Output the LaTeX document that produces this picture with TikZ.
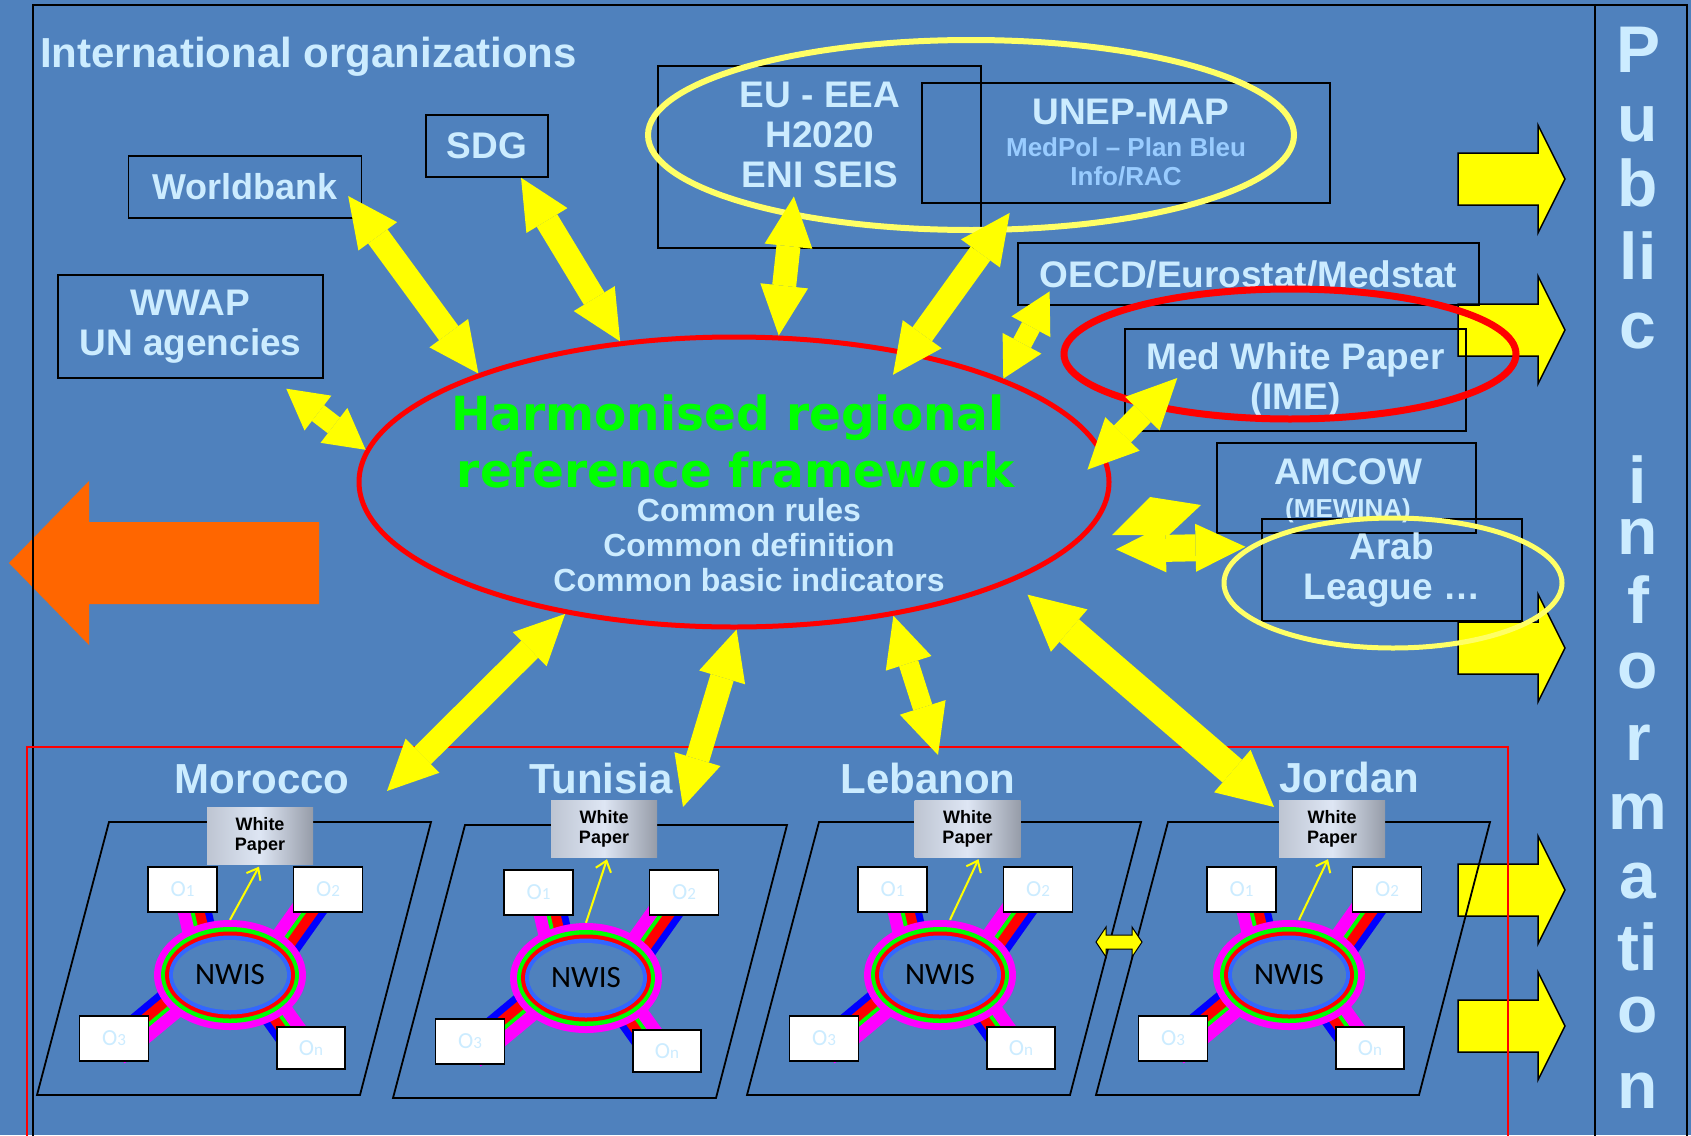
\documentclass[tikz,border=0pt]{standalone}
\usepackage{fontspec}
\setmainfont{Liberation Sans}
\newfontfamily\titlefont{DejaVu Sans}
\newfontfamily\calfont{Carlito}
\usetikzlibrary{arrows.meta,shapes.geometric,calc}

\definecolor{bgblue}{RGB}{79,129,189}
\definecolor{txtblue}{RGB}{204,236,255}
\definecolor{subblue}{RGB}{153,204,255}
\definecolor{hlyellow}{RGB}{255,255,102}
\definecolor{leftorange}{RGB}{255,102,0}
\definecolor{ringblue}{RGB}{51,102,255}
\definecolor{wpedge}{RGB}{150,156,168}
\definecolor{wpmid}{RGB}{222,230,244}
\definecolor{arrowyellow}{RGB}{255,255,0}
\definecolor{ringmagenta}{RGB}{255,0,255}
\definecolor{ringgreen}{RGB}{0,255,0}
\definecolor{ringred}{RGB}{255,0,0}
\definecolor{bandblue}{RGB}{0,0,255}

\newcommand{\fsz}[2]{\fontsize{#1}{#2}\selectfont}

\pgfdeclarelayer{bg}
\pgfdeclarelayer{band}
\pgfsetlayers{bg,band,main}

\tikzset{
  orgbox/.style={draw=black, line width=1.5pt, text=txtblue, font=\bfseries\fsz{37}{40}, align=center, inner sep=0pt},
  orgtext/.style={text=txtblue, font=\bfseries\fsz{37}{40}, align=center, inner sep=0pt},
  subtext/.style={text=subblue, font=\bfseries\fsz{26}{30}, inner sep=0pt},
  hilite/.style={line width=6pt},
  bigarrow/.style={draw=arrowyellow, line width=24pt, arrows={Triangle[length=50pt,width=48pt,line width=0pt]-Triangle[length=50pt,width=48pt,line width=0pt]}},
  shortarrow/.style={draw=arrowyellow, line width=20pt, arrows={Triangle[length=40pt,width=44pt,line width=0pt]-Triangle[length=40pt,width=44pt,line width=0pt]}},
  pubarrow/.style={draw=black, line width=1.5pt, fill=arrowyellow, line join=miter},
  publetter/.style={text=txtblue, font=\bfseries\fsz{66}{66}, anchor=base, inner sep=0pt},
  plane/.style={draw=black, line width=1.8pt, line join=miter},
  obox/.style={draw=black, line width=1.8pt, fill=white, minimum width=69pt, minimum height=45pt, inner sep=0pt, text=txtblue, font=\calfont\fsz{23}{23}},
  nwis/.style={ellipse, fill=ringmagenta, minimum width=152pt, minimum height=110pt, inner sep=0pt, font=\calfont\fsz{31}{31},
    path picture={
      \foreach \col/\rx/\ry in {ringgreen/69/48, ringred/65/43.5, ringblue/61/39.5, bgblue/57/35}
        \fill[\col] (path picture bounding box.center) ellipse [x radius=\rx pt, y radius=\ry pt];
    }},
  whitepaper/.style={left color=wpedge!45!wpmid, right color=wpedge, middle color=wpmid, minimum width=106pt, minimum height=57pt, inner sep=0pt, align=center, font=\bfseries\fsz{18}{20}},
  country/.style={text=txtblue, font=\bfseries\fsz{42}{42}, anchor=base, inner sep=0pt},
  smallarrow/.style={draw=arrowyellow, line width=2pt, -{Straight Barb[length=10pt,width=16pt]}},
}

\begin{document}
\begin{tikzpicture}[x=1pt, y=-1pt]
\useasboundingbox (0,0) rectangle (1691,1135);
\begin{pgfonlayer}{bg}
  \fill[bgblue] (0,0) rectangle (1691,1135);
\end{pgfonlayer}

% arrow to the left
\fill[leftorange] (9,563) -- (89,481) -- (89,522) -- (319,522) -- (319,604) -- (89,604) -- (89,645) -- cycle;

% arrows to public information
\foreach \y in {179,330,648,890,1026}
  \draw[pubarrow] (1458,\y-26) -- (1538,\y-26) -- (1538,\y-54) -- (1565,\y) -- (1538,\y+54) -- (1538,\y+26) -- (1458,\y+26) -- cycle;

% frames
\draw[line width=1.5pt] (33,5) rectangle (1687,1140);
\draw[line width=1.5pt] (1595,5) -- (1595,1140);
\draw[ringred, line width=1.5pt] (27,747) rectangle (1508,1140);

% public information
\foreach \t/\y [count=\i] in {P/72,u/141,b/206,li/279,c/348,i/503,n/554,f/623,o/688,r/760,m/829,a/898,ti/970,o/1032,n/1108}
  \node[publetter] (pub\i) at (1638,\y) {\t};

% international organizations
\node[orgtext, font=\bfseries\fsz{42}{42}, anchor=base west] (intl) at (40,67) {International organizations};
\node[orgbox, minimum width=233pt, minimum height=62pt, font=\bfseries\fsz{36}{40}] (wb) at (245,187) {Worldbank};
\node[orgbox, minimum width=122pt, minimum height=62pt] (sdg) at (487,146) {SDG};
\node[orgbox, minimum width=265pt, minimum height=103pt] (wwap) at (190.5,326.5) {WWAP\\UN agencies};
\node[orgbox, minimum width=323pt, minimum height=182pt] (eu) at (819.5,157) {};
\node[orgtext] (eutxt) at (820,134.5) {EU - EEA\\H2020\\ENI SEIS};
\node[orgbox, minimum width=408pt, minimum height=120pt] (unep) at (1126,143) {};
\node[orgtext, anchor=base] (uneptxt) at (1131,124) {UNEP-MAP};
\node[subtext, anchor=base] (medpol) at (1126,156) {MedPol – Plan Bleu};
\node[subtext, anchor=base] (inforac) at (1126,185) {Info/RAC};
\node[orgbox, minimum width=461pt, minimum height=62pt] (oecd) at (1248.5,274) {OECD/Eurostat/Medstat};
\node[orgbox, minimum width=341pt, minimum height=102pt] (medwp) at (1295.5,380) {Med White Paper\\(IME)};
\node[orgbox, minimum width=259pt, minimum height=90pt] (amcow) at (1346.5,488) {};
\node[orgtext, anchor=base] (amcowtxt) at (1348,484) {AMCOW};
\node[subtext, text=txtblue, anchor=base] (mewina) at (1348,517) {(MEWINA)};
\node[orgbox, minimum width=260pt, minimum height=102pt] (arab) at (1392,570) {Arab\\League …};

% regional framework
\node[ellipse, draw=ringred, line width=5pt, minimum width=750pt, minimum height=290pt, inner sep=0pt] (hrf) at (734,482) {};
\node[text=ringgreen, font=\titlefont\bfseries\fsz{47}{57}, anchor=base, inner sep=0pt] (hrf1) at (728,430) {Harmonised regional};
\node[text=ringgreen, font=\titlefont\bfseries\fsz{47}{57}, anchor=base, inner sep=0pt] (hrf2) at (736,487) {reference framework};
\node[orgtext, font=\bfseries\fsz{32}{35}] (hrfrules) at (749,545.5) {Common rules\\Common definition\\Common basic indicators};

% highlights
\draw[hlyellow, hilite] (971,135) ellipse [x radius=323pt, y radius=95pt];
\draw[ringred, line width=7pt] (1290,354) ellipse [x radius=226pt, y radius=65pt];
\draw[hlyellow, line width=5pt] (1393,583) ellipse [x radius=169pt, y radius=65pt];

% links with the organizations
\draw[bigarrow] ($(wb.center)!0.88!(wb.-5)$) -- (hrf.157);
\draw[bigarrow] (sdg.-43) -- (hrf.129);
\draw[shortarrow] ($(wwap.center)!1.19!(wwap.-33)$) -- (hrf.175);
\draw[bigarrow] ($(eu.center)!0.43!(eu.-123)$) -- (hrf.73);
\draw[bigarrow] ($(unep.center)!1.15!(unep.-149)$) -- ($(hrf.center)!0.84!(hrf.34)$);
\draw[shortarrow] ($(oecd.center)!0.86!(oecd.-175)$) -- (hrf.21);
\draw[bigarrow] ($(medwp.center)!0.69!(medwp.179)$) -- ($(hrf.center)!0.94!(hrf.2)$);
\fill[arrowyellow] (1112,535) -- (1150,497) -- (1201,505) -- (1169,535) -- cycle;
\draw[bigarrow, line width=27pt] ($(hrf.center)!1.11!(hrf.-10)$) -- ($(arab.center)!1.12!(arab.171)$);

% countries
\foreach \c/\dx/\dy/\name/\lx/\ly/\wx/\wy/\sx/\ex in {
    mor/0/0/Morocco/262/793/260/836/0/-1,
    tun/356/3/Tunisia/601/793/604/828.5/0/3,
    leb/710/0/Lebanon/928/793/967.5/828.5/10/11,
    jor/1059/0/Jordan/1349/792/1332/828.5/10/-4}{
  \node[country] (\c-name) at (\lx,\ly) {\name};
  \begin{scope}[xshift=\dx pt, yshift=-\dy pt]
    \draw[plane] (109,822) -- (431,822) -- (360,1095) -- (37,1095) -- cycle;
    \node[nwis] (\c-nwis) at (230,975) {NWIS};
    \node[obox] (\c-o1) at (182.5,889.5) {O{\fsz{17}{17}1}};
    \node[obox] (\c-o2) at (328,889.5) {O{\fsz{17}{17}2}};
    \node[obox] (\c-o3) at (114,1038.5) {O{\fsz{17}{17}3}};
    \node[obox, minimum width=68pt, minimum height=42pt] (\c-on) at (311,1048) {O{\fsz{17}{17}n}};
  \end{scope}
  \begin{pgfonlayer}{band}
    \foreach \o/\ax/\ay/\bx/\by in {o1/-24/-15/7/0, o2/43/-15/-5/0, o3/-25/0/0/12, on/8/-15/-10/0}{
      \coordinate (\c-s\o) at ($(\c-nwis)+(\ax,\ay)$);
      \coordinate (\c-e\o) at ($(\c-\o)+(\bx,\by)$);
      \foreach \col/\off/\w in {bandblue/-13/7.5, ringred/-4.5/10.5, ringgreen/2.5/4.5, ringmagenta/10.5/12.5}
        \draw[\col, line width=\w pt] ($(\c-s\o)!\off pt!90:(\c-e\o)$) -- ($(\c-e\o)!\off pt!-90:(\c-s\o)$);
    }
  \end{pgfonlayer}
  \node[whitepaper] (\c-wp) at (\wx,\wy) {White\\Paper};
  \draw[smallarrow] ([xshift=\sx pt]\c-nwis.north) -- ([xshift=\ex pt, yshift=-2pt]\c-wp.south);
}

% small link between Lebanon and Jordan
\draw[pubarrow, line width=1pt] (1096,942) -- (1106,927) -- (1106,935) -- (1132,935) -- (1132,927) -- (1142,942) -- (1132,957) -- (1132,949) -- (1106,949) -- (1106,957) -- cycle;

% links with the countries
\coordinate (mor-in) at (387,791);
\coordinate (tun-in) at (683,807);
\coordinate (leb-in) at (938,755);
\coordinate (jor-in) at (1274,807);
\draw[bigarrow] (hrf.218) -- (mor-in);
\draw[bigarrow] (hrf.271) -- (tun-in);
\draw[bigarrow, line width=20pt] (hrf.320) -- (leb-in);
\draw[bigarrow, line width=30pt, arrows={Triangle[length=55pt,width=56pt,line width=0pt]-Triangle[length=55pt,width=56pt,line width=0pt]}] ($(hrf.center)!1.09!(hrf.-21)$) -- (jor-in);
\end{tikzpicture}
\end{document}
